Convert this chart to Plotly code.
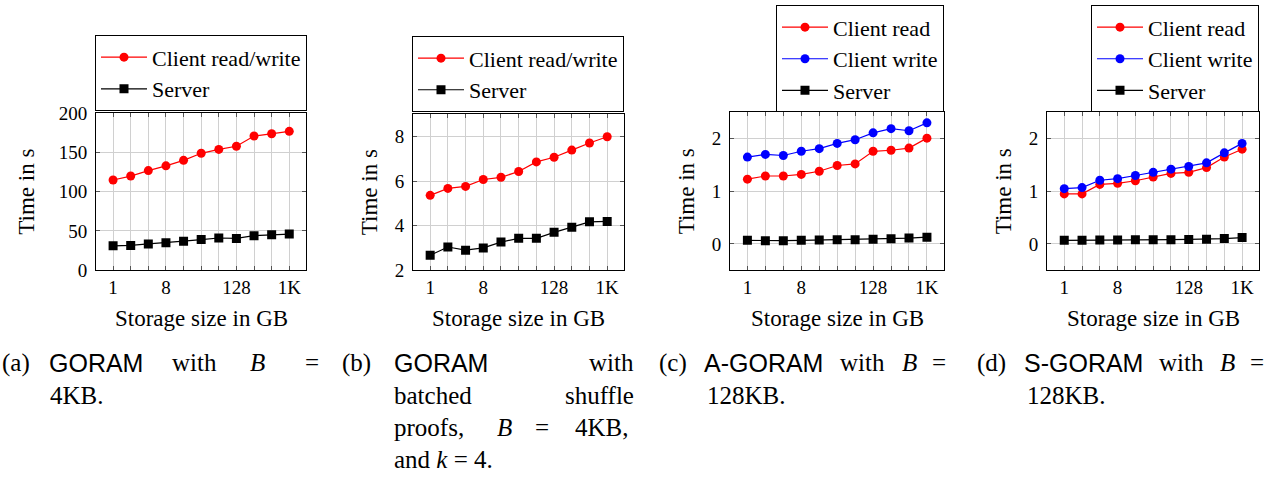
import math
import plotly.graph_objects as go

# ---------------- data ----------------
sizes_gb = [1, 2, 4, 8, 16, 32, 64, 128, 256, 512, 1024]
x_tick_labels = ["1", "", "", "8", "", "", "", "128", "", "", "1K"]

a_client_rw = [115, 120, 127, 133, 140, 149, 154, 158, 171, 174, 177]
a_server = [31, 31.5, 33.5, 35, 37, 39, 41, 40.5, 44, 45, 46]

b_client_rw = [5.36, 5.67, 5.76, 6.07, 6.17, 6.43, 6.86, 7.07, 7.39, 7.71, 7.99]
b_server = [2.67, 3.04, 2.90, 3.00, 3.26, 3.43, 3.43, 3.70, 3.93, 4.17, 4.19]

c_read = [1.23, 1.29, 1.29, 1.32, 1.38, 1.49, 1.52, 1.76, 1.78, 1.82, 2.01]
c_write = [1.65, 1.70, 1.68, 1.76, 1.81, 1.91, 1.98, 2.11, 2.19, 2.15, 2.30]
c_server = [0.067, 0.06, 0.06, 0.067, 0.073, 0.079, 0.079, 0.09, 0.097, 0.11, 0.127]

d_read = [0.95, 0.95, 1.13, 1.15, 1.20, 1.27, 1.34, 1.36, 1.45, 1.65, 1.80]
d_write = [1.05, 1.07, 1.21, 1.24, 1.30, 1.36, 1.42, 1.47, 1.54, 1.73, 1.91]
d_server = [0.067, 0.067, 0.073, 0.073, 0.08, 0.08, 0.08, 0.085, 0.09, 0.10, 0.12]

a_yticks = [0, 50, 100, 150, 200]
b_yticks = [2, 4, 6, 8]
cd_yticks = [0, 1, 2]

y_title = "Time in s"
x_title = "Storage size in GB"

# ---------------- layout helpers ----------------
W, H = 1279, 483
SERIF = "Liberation Serif"
SANS = "Liberation Sans"


def px(x):
    return x / W


def py(y):
    return 1 - y / H


RED = "#ff0000"
BLUE = "#0000ff"
BLACK = "#000000"

panels = [
    dict(x0=96, x1=306, y0=108, y1=272, yr=[0, 200], yt=a_yticks, lr=307, lb=106, tx=27),
    dict(x0=413, x1=624, y0=109, y1=272, yr=[2, 9], yt=b_yticks, lr=624, lb=107, tx=369),
    dict(x0=730, x1=944, y0=107, y1=272, yr=[-0.5, 2.5], yt=cd_yticks, lr=944, lb=107, tx=686),
    dict(x0=1047, x1=1259, y0=107, y1=272, yr=[-0.5, 2.5], yt=cd_yticks, lr=1259, lb=107, tx=1003),
]

series = [
    [("Client read/write", a_client_rw, RED, "circle"), ("Server", a_server, BLACK, "square")],
    [("Client read/write", b_client_rw, RED, "circle"), ("Server", b_server, BLACK, "square")],
    [("Client read", c_read, RED, "circle"), ("Client write", c_write, BLUE, "circle"),
     ("Server", c_server, BLACK, "square")],
    [("Client read", d_read, RED, "circle"), ("Client write", d_write, BLUE, "circle"),
     ("Server", d_server, BLACK, "square")],
]

fig = go.Figure()
xr = [math.log10(2 ** -0.97), math.log10(2 ** 10.95)]
annotations = []

for i, (p, ser) in enumerate(zip(panels, series)):
    n = "" if i == 0 else str(i + 1)
    leg = "legend" if i == 0 else "legend" + str(i + 1)
    for name, vals, col, sym in ser:
        fig.add_trace(go.Scatter(
            x=sizes_gb, y=vals, name=name, mode="lines+markers",
            line=dict(color=col, width=1.2),
            marker=dict(color=col, symbol=sym, size=9, line=dict(width=0)),
            xaxis="x" + n, yaxis="y" + n, legend=leg,
        ))
    axis_common = dict(
        showline=True, linecolor=BLACK, linewidth=1, mirror="ticks",
        ticks="inside", ticklen=4, tickwidth=1, tickcolor="#555555",
        showgrid=True, gridcolor="#d0d0d0", gridwidth=1, zeroline=False,
        tickfont=dict(family=SERIF, size=19, color=BLACK),
    )
    fig.update_layout(**{
        "xaxis" + n: dict(
            axis_common, type="log", range=xr, domain=[px(p["x0"]), px(p["x1"])],
            anchor="y" + n, tickmode="array", tickvals=sizes_gb, ticktext=x_tick_labels,
        ),
        "yaxis" + n: dict(
            axis_common, range=p["yr"], domain=[py(p["y1"]), py(p["y0"])],
            anchor="x" + n, tickmode="array", tickvals=p["yt"], ticklabelstandoff=4,
        ),
        leg: dict(
            x=px(p["lr"]), y=py(p["lb"]), xanchor="right", yanchor="bottom",
            bgcolor="white", bordercolor=BLACK, borderwidth=1,
            font=dict(family=SERIF, size=22, color=BLACK),
            traceorder="normal", itemwidth=46,
        ),
    })
    annotations.append(dict(
        text=y_title, x=px(p["tx"]), y=py((p["y0"] + p["y1"]) / 2),
        xref="paper", yref="paper", textangle=-90, showarrow=False,
        xanchor="center", yanchor="middle",
        font=dict(family=SERIF, size=23, color=BLACK),
    ))
    annotations.append(dict(
        text=x_title, x=px((p["x0"] + p["x1"]) / 2), y=py(323),
        xref="paper", yref="paper", showarrow=False,
        xanchor="center", yanchor="middle",
        font=dict(family=SERIF, size=23, color=BLACK),
    ))


def sf(t):
    return '<span style="font-family:%s">%s</span>' % (SANS, t)


# caption words: (left px, line centre px, text)
caption_lines = [
    [(0, 369, "(a)"), (47, 369, sf("GORAM")), (170, 369, "with"), (248, 369, "<i>B</i>"),
     (303, 369, "=")],
    [(48, 403, "4KB.")],
    [(340, 369, "(b)"), (392, 369, sf("GORAM")), (587, 369, "with")],
    [(392, 403, "batched"), (563, 403, "shuffle")],
    [(392, 436, "proofs,"), (495, 436, "<i>B</i>"), (533, 436, "="), (573, 436, "4KB,")],
    [(392, 470, "and <i>k</i> = 4.")],
    [(657, 369, "(c)"), (702, 369, sf("A-GORAM")), (838, 369, "with"), (900, 369, "<i>B</i>"),
     (930, 369, "=")],
    [(705, 403, "128KB.")],
    [(975, 369, "(d)"), (1022, 369, sf("S-GORAM")), (1157, 369, "with"), (1218, 369, "<i>B</i>"),
     (1248, 369, "=")],
    [(1025, 403, "128KB.")],
]
for line in caption_lines:
    for x, y, t in line:
        annotations.append(dict(
            text=t, x=px(x), y=py(y), xref="paper", yref="paper", showarrow=False,
            xanchor="left", yanchor="middle",
            font=dict(family=SERIF, size=25, color=BLACK),
        ))

fig.update_layout(
    width=W, height=H, margin=dict(l=0, r=0, t=0, b=0),
    paper_bgcolor="white", plot_bgcolor="white",
    annotations=annotations, showlegend=True,
)

fig.write_html("out.html")
